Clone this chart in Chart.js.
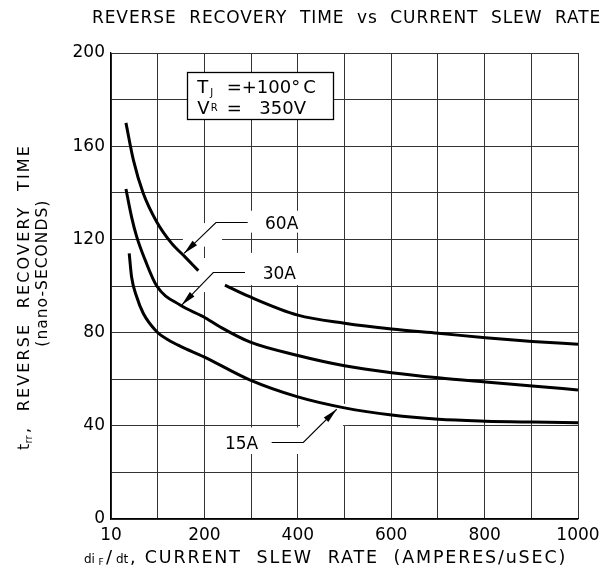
<!DOCTYPE html>
<html><head><meta charset="utf-8">
<script src="https://cdn.jsdelivr.net/npm/chart.js@4.4.1/dist/chart.umd.min.js"></script>
<style>html,body{margin:0;padding:0;background:#fff}#wrap{width:611px;height:573px;position:relative}</style>
</head><body><div id="wrap"><canvas id="c"></canvas></div>
<script>
// ---- data ----
const chartTitle = 'REVERSE  RECOVERY  TIME  vs  CURRENT  SLEW  RATE';
const xTickLabels = ['10', '', '200', '', '400', '', '600', '', '800', '', '1000'];
const yTickLabels = ['0', '', '40', '', '80', '', '120', '', '160', '', '200'];

const slew60A = [32, 48, 69, 98, 130, 158, 187, 215, 244, 297, 400, 500, 601, 701, 802, 902, 1000];
const trr60A  = [170, 154, 139.8, 127.5, 118.3, 112.6, 106.6, null, 100.4, 95.4, 87.5, 84, 81.5, 79.7, 77.8, 76.2, 75];

const slew30A = [32, 44, 55, 73, 98, 148, 198, 233, 297, 400, 500, 601, 701, 802, 902, 1000];
const trr30A  = [141.6, 129.7, 121.2, 111.2, 100, 91.8, 86.8, 82.5, 76, 70.2, 65.8, 62.8, 60.6, 58.8, 57.1, 55.4];

const slew15A = [39, 44, 55, 69, 98, 123, 150, 198, 297, 400, 500, 601, 701, 802, 902, 1000];
const trr15A  = [114, 104, 95.4, 88.3, 80.4, 76.8, 74, 69.7, 59.7, 52.4, 47.7, 44.6, 42.8, 42, 41.6, 41.3];

const seriesNames = ['60A', '30A', '15A'];

const toPoints = (xs, ys) => xs.map((x, i) => ({ x: x, y: ys[i] }));

const FONT = '"DejaVu Sans", sans-serif';

function fitText(ctx, text, x, y, target) {
  ctx.letterSpacing = '0px';
  const w0 = ctx.measureText(text).width;
  const n = text.length;
  const ls = (target - w0) / n;
  ctx.letterSpacing = ls.toFixed(2) + 'px';
  ctx.fillText(text, x, y);
  ctx.letterSpacing = '0px';
}

const annotPlugin = {
  id: 'annot',
  beforeDatasetsDraw(chart) {
    const { ctx } = chart;
    const X = v => chart.scales.x.getPixelForValue(v);
    const Y = t => chart.scales.y.getPixelForValue(t);
    // white clearings behind labels and leaders (in data units)
    const clear = [
      [293, 469, 132.3, 122.9],
      [289, 469, 114.2, 100.4],
      [188.4, 246.3, 112, 97.4],
      [154, 237.7, 121.5, 118.5],
      [190.6, 209.9, 127, 116.9],
      [222.7, 404.7, 39.3, 27.9],
      [404.7, 496.8, 41.6, 38.2],
      [488, 507, 49.4, 40.3]
    ];
    ctx.save();
    ctx.fillStyle = '#fff';
    clear.forEach(r => {
      const x1 = X(r[0]), x2 = X(r[1]), y1 = Y(r[2]), y2 = Y(r[3]);
      ctx.fillRect(x1, y1, x2 - x1, y2 - y1);
    });
    // condition box
    const bx1 = X(163.4), bx2 = X(476), by1 = Y(191.7), by2 = Y(171.5);
    ctx.fillRect(bx1, by1, bx2 - bx1, by2 - by1);
    ctx.strokeStyle = '#000';
    ctx.lineWidth = 1.3;
    ctx.strokeRect(Math.round(bx1) + 0.5, Math.round(by1) + 0.5, Math.round(bx2 - bx1), Math.round(by2 - by1));
    ctx.fillStyle = '#000';
    ctx.textBaseline = 'alphabetic';
    ctx.textAlign = 'left';
    const ox = bx1, oy = by1;
    ctx.font = '18px ' + FONT;
    ctx.fillText('T', ox + 10, oy + 21);
    ctx.fillText('=+100', ox + 39.4, oy + 21);
    ctx.fillText('\u00B0', ox + 104, oy + 21);
    ctx.fillText('C', ox + 116, oy + 21);
    ctx.fillText('V', ox + 10, oy + 42);
    ctx.fillText('=', ox + 39.4, oy + 42);
    ctx.fillText('350V', ox + 72, oy + 42);
    ctx.font = '10px ' + FONT;
    ctx.fillText('J', ox + 23, oy + 23.5);
    ctx.fillText('R', ox + 23.5, oy + 38.5);
    ctx.restore();
  },
  afterDatasetsDraw(chart) {
    const { ctx } = chart;
    const X = v => chart.scales.x.getPixelForValue(v);
    const Y = t => chart.scales.y.getPixelForValue(t);
    const leaders = [
      { text: seriesNames[0], tx: 329.8, ty: 127.3, hx1: 292.7, hx2: 224.8, tipx: 156.3, tipt: 114 },
      { text: seriesNames[1], tx: 324.8, ty: 105.9, hx1: 287, hx2: 219, tipx: 151.4, tipt: 91.8 },
      { text: seriesNames[2], tx: 244, ty: 33.2, hx1: 344, hx2: 411.8, tipx: 483.3, tipt: 47.1 }
    ];
    ctx.save();
    ctx.strokeStyle = '#000';
    ctx.fillStyle = '#000';
    ctx.lineWidth = 1.1;
    leaders.forEach(l => {
      const yh = Math.round(Y(l.ty)) + 0.5;
      const ax = X(l.hx2), tx = X(l.tipx), ty = Y(l.tipt);
      ctx.beginPath();
      ctx.moveTo(X(l.hx1), yh);
      ctx.lineTo(ax, yh);
      ctx.lineTo(tx, ty);
      ctx.stroke();
      const dx = tx - ax, dy = ty - yh, len = Math.hypot(dx, dy);
      const ux = dx / len, uy = dy / len, nx = -uy, ny = ux;
      const L = 15, W = 3.2;
      const bx = tx - ux * L, by = ty - uy * L;
      ctx.beginPath();
      ctx.moveTo(tx, ty);
      ctx.lineTo(bx + nx * W, by + ny * W);
      ctx.lineTo(bx - nx * W, by - ny * W);
      ctx.closePath();
      ctx.fill();
      ctx.font = '17px ' + FONT;
      ctx.textAlign = 'left';
      ctx.textBaseline = 'alphabetic';
      ctx.fillText(l.text, X(l.tx), yh + 6);
    });
    ctx.restore();
  },
  afterDraw(chart) {
    const { ctx } = chart;
    ctx.save();
    ctx.fillStyle = '#000';
    ctx.textAlign = 'left';
    ctx.textBaseline = 'alphabetic';
    // chart title
    ctx.font = '17px ' + FONT;
    fitText(ctx, chartTitle, 92, 23, 509);
    // x axis title
    const bx = 84, by = 563;
    ctx.font = '12px ' + FONT;
    ctx.fillText('di', bx, by);
    ctx.font = '9px ' + FONT;
    ctx.fillText('F', bx + 14.5, by + 2);
    ctx.font = '18px ' + FONT;
    ctx.fillText('/', bx + 22, by);
    ctx.font = '12px ' + FONT;
    ctx.fillText('dt', bx + 32, by);
    ctx.font = '17.5px ' + FONT;
    fitText(ctx, ', CURRENT  SLEW  RATE  (AMPERES/uSEC)', bx + 46, by, 567 - bx - 46);
    // y axis title
    ctx.translate(28.5, 450);
    ctx.rotate(-Math.PI / 2);
    ctx.font = '15.5px ' + FONT;
    ctx.fillText('t', 0, 0);
    ctx.font = '10px ' + FONT;
    ctx.fillText('rr', 6.5, 3);
    ctx.font = '16px ' + FONT;
    fitText(ctx, ',  REVERSE  RECOVERY  TIME', 17, 0, 306 - 17);
    ctx.font = '15.5px ' + FONT;
    fitText(ctx, '(nano-SECONDS)', 103.3, 18.5, 147);
    ctx.restore();
  }
};

new Chart(document.getElementById('c'), {
  type: 'line',
  data: {
    datasets: [
      { label: seriesNames[0], data: toPoints(slew60A, trr60A) },
      { label: seriesNames[1], data: toPoints(slew30A, trr30A) },
      { label: seriesNames[2], data: toPoints(slew15A, trr15A) }
    ]
  },
  options: {
    responsive: true,
    maintainAspectRatio: false,
    animation: false,
    devicePixelRatio: 1,
    layout: { padding: { left: 0, right: 33, top: 53, bottom: 0 } },
    elements: {
      line: { borderColor: '#000', borderWidth: 3, cubicInterpolationMode: 'monotone', fill: false, borderCapStyle: 'butt' },
      point: { radius: 0, hoverRadius: 0 }
    },
    spanGaps: false,
    plugins: {
      legend: { display: false },
      tooltip: { enabled: false },
      title: { display: false }
    },
    scales: {
      x: {
        type: 'linear',
        min: 0, max: 1000,
        afterFit: s => { s.height = 54; },
        afterBuildTicks: s => { s.ticks = xTickLabels.map((_, i) => ({ value: i * 100 })); },
        ticks: {
          autoSkip: false, maxRotation: 0,
          color: '#000', padding: 6,
          font: { family: FONT, size: 17 },
          callback: (v, i) => xTickLabels[i]
        },
        grid: { color: '#333', lineWidth: 1, drawTicks: false },
        border: { color: '#000', width: 1.3 }
      },
      y: {
        type: 'linear',
        min: 0, max: 200,
        afterFit: s => { s.width = 111; },
        afterBuildTicks: s => { s.ticks = yTickLabels.map((_, i) => ({ value: i * 20 })); },
        ticks: {
          autoSkip: false,
          color: '#000', padding: 6,
          font: { family: FONT, size: 17 },
          callback: (v, i) => yTickLabels[i]
        },
        grid: { color: '#333', lineWidth: 1, drawTicks: false },
        border: { color: '#000', width: 1.3 }
      }
    }
  },
  plugins: [annotPlugin]
});
</script>
</body></html>
